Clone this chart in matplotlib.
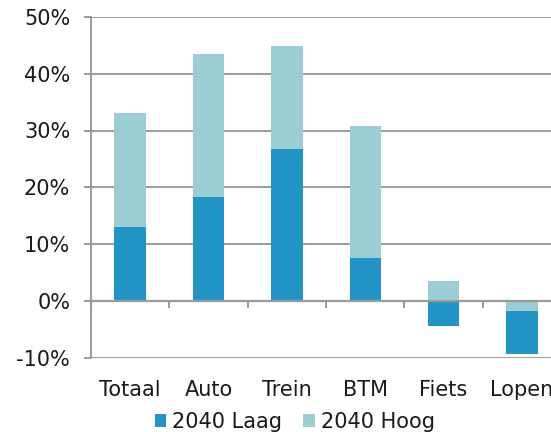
import matplotlib
matplotlib.use("Agg")
import matplotlib.pyplot as plt
from matplotlib.ticker import FuncFormatter
import numpy as np

# Growth per transport mode (percent)
categories = ["Totaal", "Auto", "Trein", "BTM", "Fiets", "Lopen"]
laag_2040 = [13.0, 18.3, 26.8, 7.6, -4.5, -9.3]
hoog_2040 = [33.0, 43.5, 44.9, 30.8, 3.4, -1.8]
series_labels = ["2040 Laag", "2040 Hoog"]
y_ticks = [-10, 0, 10, 20, 30, 40, 50]

DARK = "#2394c6"
LIGHT = "#9ccdd5"
GRID = "#9a9a9a"
TEXT = "#1a1a1a"

plt.rcParams["font.family"] = ["DejaVu Sans"]
plt.rcParams["font.size"] = 15

fig = plt.figure(figsize=(5.51, 4.32), dpi=100)
ax = fig.add_axes([91 / 551, 1 - 357.5 / 432, 470 / 551, (357.5 - 17) / 432])

x = np.arange(len(categories))
width = 0.40
bars_l = ax.bar(x, laag_2040, width, color=DARK, label=series_labels[0])
bars_h = ax.bar(x, hoog_2040, width, color=LIGHT, label=series_labels[1])

# overlapping bars: the shorter one is drawn in front of the longer one
for bl, bh, lo, hi in zip(bars_l, bars_h, laag_2040, hoog_2040):
    if abs(lo) <= abs(hi):
        bl.set_zorder(1.7)
        bh.set_zorder(1.5)
    else:
        bl.set_zorder(1.5)
        bh.set_zorder(1.7)

ax.set_xlim(-0.5, len(categories) - 0.5)
ax.set_ylim(y_ticks[0], y_ticks[-1])
ax.set_yticks(y_ticks)
ax.yaxis.set_major_formatter(FuncFormatter(lambda v, _: f"{v:.0f}%"))

ax.set_axisbelow(True)
ax.yaxis.grid(True, color=GRID, linewidth=1.4)
ax.xaxis.grid(False)

for side in ("top", "right"):
    ax.spines[side].set_visible(False)
ax.spines["left"].set_color(GRID)
ax.spines["left"].set_linewidth(1.4)
ax.spines["bottom"].set_position(("data", 0))
ax.spines["bottom"].set_color(GRID)
ax.spines["bottom"].set_linewidth(1.6)

# category separators on the zero axis
ax.set_xticks(np.arange(-0.5, len(categories), 1.0))
ax.tick_params(axis="x", length=5, width=1.4, color=GRID, direction="out",
               labelbottom=False)
ax.tick_params(axis="y", length=5, width=1.4, color=GRID, pad=10,
               labelsize=15, labelcolor=TEXT)

# category labels below the plot area
sec = ax.secondary_xaxis("bottom")
sec.set_xticks(x, categories)
sec.tick_params(length=0, pad=16, labelsize=15, labelcolor=TEXT)
sec.spines["bottom"].set_visible(False)

fig.legend(handles=[bars_l, bars_h], labels=series_labels, loc="center",
           bbox_to_anchor=(0.535, 0.024), ncol=2, frameon=False,
           handlelength=0.55, handleheight=0.55, handletextpad=0.3,
           columnspacing=1.0, fontsize=15, labelcolor=TEXT, borderpad=0)

fig.savefig("out.png", dpi=100)
